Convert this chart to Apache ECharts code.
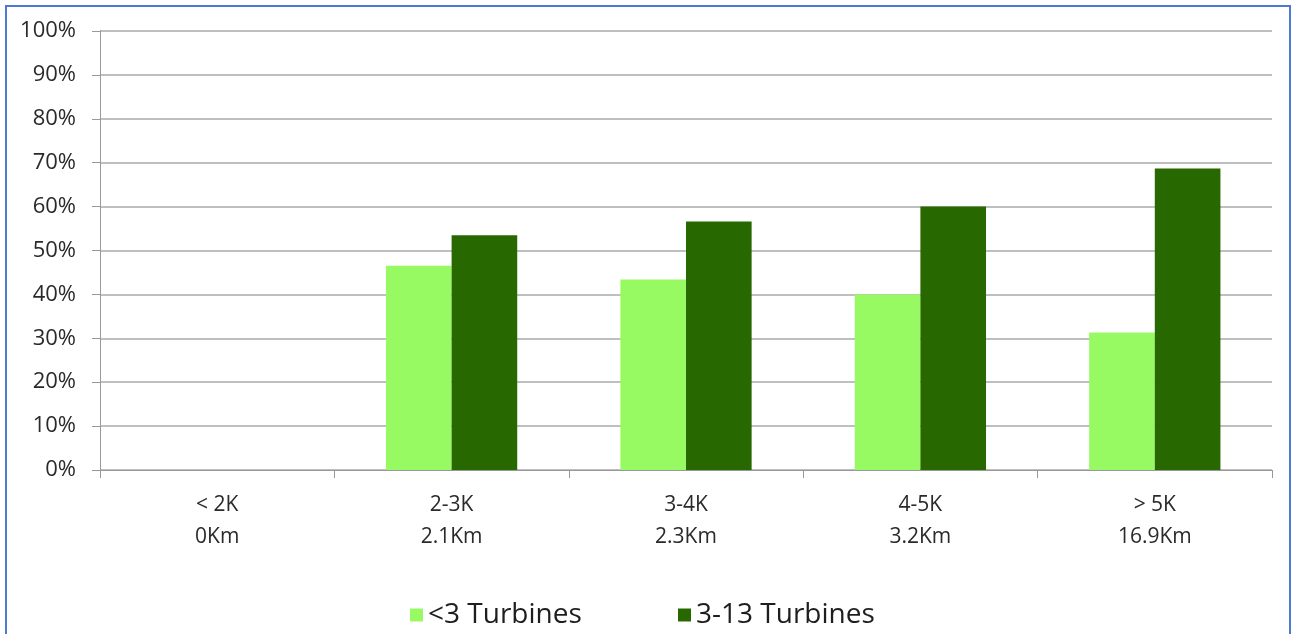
<!DOCTYPE html>
<html>
<head>
<meta charset="utf-8">
<script src="https://cdn.jsdelivr.net/npm/echarts@6/dist/echarts.min.js"></script>
<style>
  html, body { margin: 0; padding: 0; background: #fff; }
  #frame { position: absolute; left: 5px; top: 5px; width: 1286px; height: 640px;
           border: 2px solid #4a7bd0; box-sizing: border-box; }
  #chart { position: absolute; left: 0; top: 0; width: 1293px; height: 634px; }
</style>
</head>
<body>
<div id="frame"></div>
<div id="chart"></div>
<script>
const categories = ['< 2K\n0Km', '2-3K\n2.1Km', '3-4K\n2.3Km', '4-5K\n3.2Km', '> 5K\n16.9Km'];
const lowTurbines = [0, 46.5, 43.4, 40.0, 31.3];
const highTurbines = [0, 53.5, 56.6, 60.0, 68.7];
const yTicks = [0, 10, 20, 30, 40, 50, 60, 70, 80, 90, 100];
const seriesNames = ['<3 Turbines', '3-13 Turbines'];

const font = '"Open Sans", "Liberation Sans", sans-serif';
const legendText = { fontFamily: font, fontSize: 28, color: '#1e1e1e' };
const chart = echarts.init(document.getElementById('chart'), null, { renderer: 'canvas' });
chart.setOption({
  animation: false,
  backgroundColor: 'transparent',
  grid: { left: 100, right: 21, top: 31, bottom: 164, containLabel: false },
  legend: [
    { left: 405, top: 596, itemWidth: 13, itemHeight: 13, itemGap: 8, icon: 'rect',
      textStyle: legendText, data: [seriesNames[0]] },
    { left: 673, top: 596, itemWidth: 13, itemHeight: 13, itemGap: 8, icon: 'rect',
      textStyle: legendText, data: [seriesNames[1]] }
  ],
  xAxis: {
    type: 'category',
    data: categories,
    axisLine: { lineStyle: { color: '#999', width: 1 } },
    axisTick: { show: true, length: 8, lineStyle: { color: '#999' } },
    axisLabel: { fontFamily: font, fontSize: 21, color: '#2a2a2a', lineHeight: 32, margin: 19 }
  },
  yAxis: {
    type: 'value',
    min: yTicks[0],
    max: yTicks[yTicks.length - 1],
    interval: 10,
    axisLine: { show: true, lineStyle: { color: '#999', width: 1 } },
    axisTick: { show: true, length: 8, lineStyle: { color: '#999' } },
    axisLabel: { fontFamily: font, fontSize: 22, color: '#2a2a2a', margin: 24,
                 formatter: v => v + '%' },
    splitLine: { lineStyle: { color: '#aaa', width: 1.5 } }
  },
  series: [
    {
      name: seriesNames[0], type: 'bar', data: lowTurbines,
      itemStyle: { color: '#98fa62' },
      barGap: '0%', barCategoryGap: '44%'
    },
    {
      name: seriesNames[1], type: 'bar', data: highTurbines,
      itemStyle: { color: '#286800' },
      barGap: '0%', barCategoryGap: '44%'
    }
  ]
});
</script>
</body>
</html>
